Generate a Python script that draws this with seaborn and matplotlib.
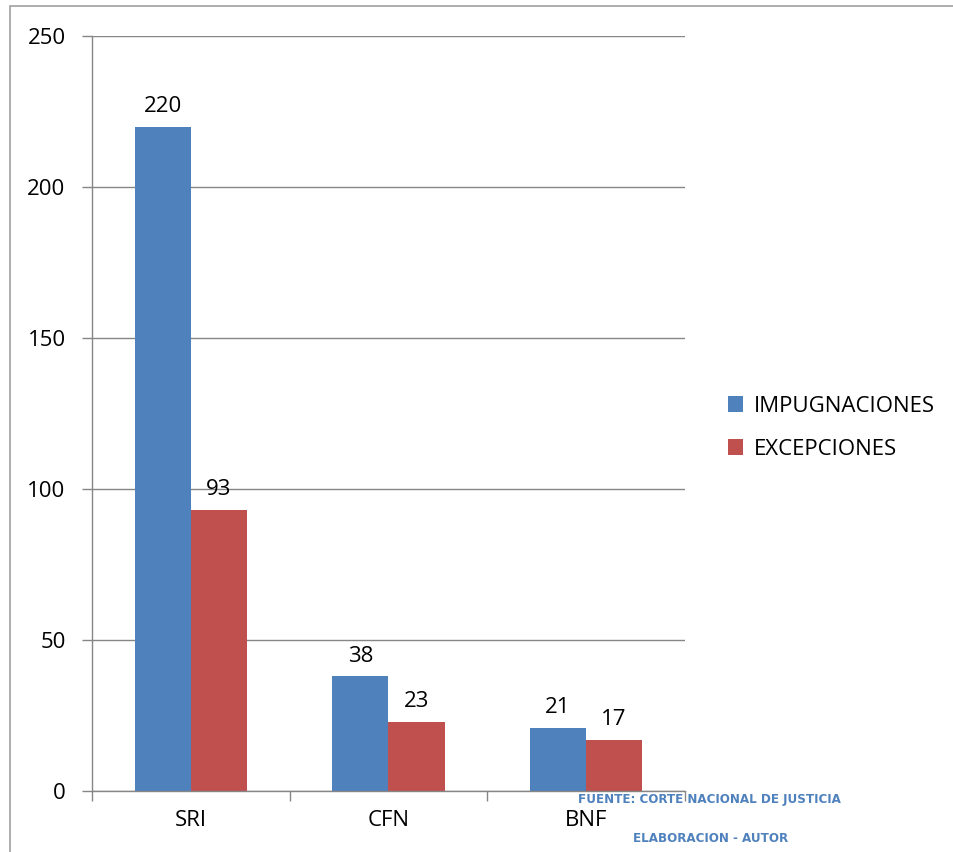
import pandas as pd
import matplotlib.pyplot as plt
import seaborn as sns
from matplotlib.patches import Patch, Rectangle

entidades = ["SRI", "CFN", "BNF"]
impugnaciones = [220, 38, 21]
excepciones = [93, 23, 17]
series = ["IMPUGNACIONES", "EXCEPCIONES"]
colores = ["#4F81BD", "#C0504D"]
yticks = [0, 50, 100, 150, 200, 250]

df = pd.DataFrame({
    "entidad": entidades * 2,
    "valor": impugnaciones + excepciones,
    "tipo": [series[0]] * 3 + [series[1]] * 3,
})

sns.set_style("white")
plt.rcParams["font.family"] = ["Open Sans", "DejaVu Sans"]
plt.rcParams["text.color"] = "black"
plt.rcParams["xtick.color"] = "black"
plt.rcParams["ytick.color"] = "black"

fig = plt.figure(figsize=(9.54, 8.52), dpi=100)
ax = fig.add_axes([0.0964, 0.0716, 0.6216, 0.8861])

sns.barplot(data=df, x="entidad", y="valor", hue="tipo", palette=colores,
            width=0.567, saturation=1, ax=ax, legend=False,
            edgecolor="none", linewidth=0)

for cont in ax.containers:
    ax.bar_label(cont, fontsize=16, padding=7, color="black")

grid_c = "#868686"
ax.set_ylim(0, 250)
ax.set_xlim(-0.5, 2.5)
ax.set_yticks(yticks)
ax.yaxis.grid(True, color=grid_c, linewidth=1)
ax.set_axisbelow(True)
ax.set_xlabel("")
ax.set_ylabel("")
for s in ["top", "right"]:
    ax.spines[s].set_visible(False)
for s in ["left", "bottom"]:
    ax.spines[s].set_color(grid_c)
    ax.spines[s].set_linewidth(1)
ax.tick_params(axis="y", left=True, length=7, color=grid_c, width=1,
               labelsize=16, labelcolor="black", pad=12)
ax.tick_params(axis="x", bottom=True, length=0, labelsize=16,
               labelcolor="black", pad=14)
# marcas del eje x entre categorias
ax.set_xticks([-0.5, 0.5, 1.5, 2.5], minor=True)
ax.tick_params(axis="x", which="minor", bottom=True, length=7,
               color=grid_c, width=1)

handles = [Patch(facecolor=c, edgecolor="none") for c in colores]
fig.legend(handles, series, loc="center left", bbox_to_anchor=(0.742, 0.498),
           frameon=False, fontsize=16, handlelength=0.7, handleheight=0.7,
           handletextpad=0.45, labelspacing=1.0)

fuente = ["DejaVu Sans"]
fig.text(0.744, 1 - 800 / 852, "FUENTE: CORTE NACIONAL DE JUSTICIA", color="#4F81BD",
         fontsize=9.5, fontweight="bold", fontstretch="condensed", family=fuente,
         ha="center", va="center")
fig.text(0.745, 1 - 838 / 852, "ELABORACION - AUTOR", color="#4F81BD",
         fontsize=9.5, fontweight="bold", fontstretch="condensed", family=fuente,
         ha="center", va="center")

# borde del area del grafico
fig.patches.append(Rectangle((10 / 954, -0.1), 1.2, 1 - 6 / 852 + 0.1,
                             transform=fig.transFigure, fill=False,
                             edgecolor="#A0A0A0", linewidth=1.2))

fig.savefig("out.png", dpi=100)
